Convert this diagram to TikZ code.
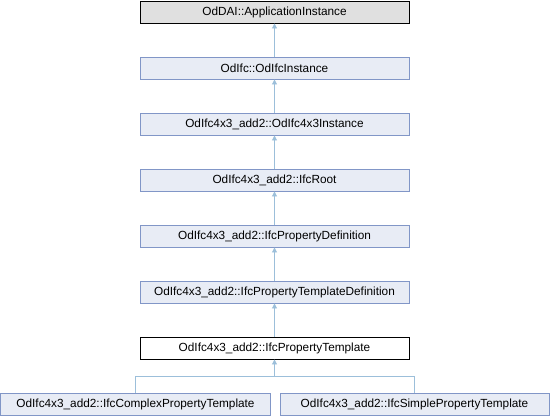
\documentclass[tikz,border=0pt]{standalone}
\usepackage{fontspec}
\setmainfont{Liberation Sans}
\usetikzlibrary{arrows.meta}
\definecolor{boxfill}{HTML}{E8ECF5}
\definecolor{boxdraw}{HTML}{8196C7}
\definecolor{edgecol}{HTML}{9CBFDA}
\definecolor{topfill}{HTML}{E0E0E0}
\begin{document}
\begin{tikzpicture}[x=1pt,y=-1pt,
  cls/.style={draw=boxdraw,fill=boxfill,line width=0.9pt,minimum height=22pt,inner sep=0pt,
     font=\fontsize{11.8}{13}\selectfont,text=black},
  wide/.style={minimum width=269pt},
  edge/.style={draw=edgecol,line width=0.9pt},
  arr/.style={-{Triangle[length=5pt,width=5pt,fill=edgecol]}}]
\useasboundingbox (0,0) rectangle (550,416);
\node[cls,wide,draw=black,fill=topfill] (a) at (274.5,12) {OdDAI::ApplicationInstance};
\node[cls,wide] (b) at (274.5,68) {OdIfc::OdIfcInstance};
\node[cls,wide] (c) at (274.5,124) {OdIfc4x3\_add2::OdIfc4x3Instance};
\node[cls,wide] (d) at (274.5,180) {OdIfc4x3\_add2::IfcRoot};
\node[cls,wide] (e) at (274.5,236) {OdIfc4x3\_add2::IfcPropertyDefinition};
\node[cls,wide] (f) at (274.5,292) {OdIfc4x3\_add2::IfcPropertyTemplateDefinition};
\node[cls,wide,draw=black,fill=white] (g) at (274.5,348) {OdIfc4x3\_add2::IfcPropertyTemplate};
\node[cls,minimum width=270pt] (h) at (135.5,404) {OdIfc4x3\_add2::IfcComplexPropertyTemplate};
\node[cls,minimum width=269pt] (i) at (414.5,404) {OdIfc4x3\_add2::IfcSimplePropertyTemplate};
\draw[edge,arr] (b.north) -- (a.south);
\draw[edge,arr] (c.north) -- (b.south);
\draw[edge,arr] (d.north) -- (c.south);
\draw[edge,arr] (e.north) -- (d.south);
\draw[edge,arr] (f.north) -- (e.south);
\draw[edge,arr] (g.north) -- (f.south);
\coordinate (j) at (274.5,376.5);
\draw[edge] (h.north) |- (i.north |- j) -- (i.north);
\draw[edge,arr] (j) -- (g.south);
\end{tikzpicture}
\end{document}
